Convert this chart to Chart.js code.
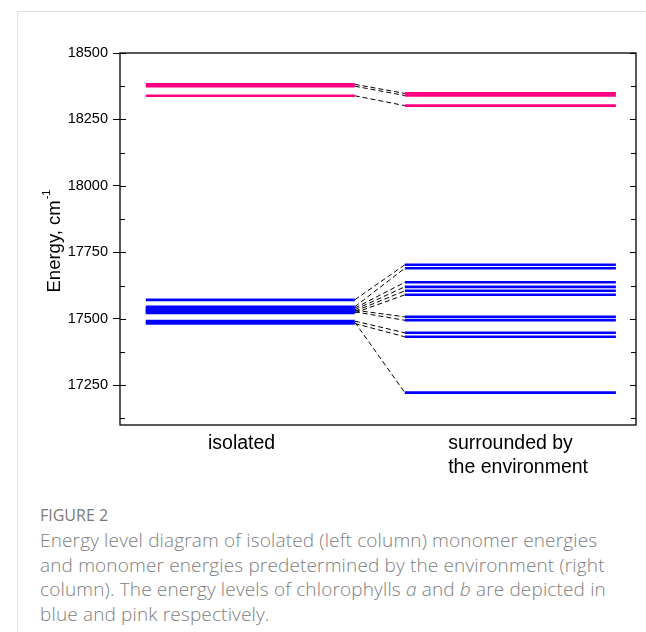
<!DOCTYPE html>
<html>
<head>
<meta charset="utf-8">
<script src="https://cdn.jsdelivr.net/npm/chart.js@4"></script>
<style>
  html, body { margin: 0; padding: 0; background: #fff; }
  body { width: 646px; height: 632px; position: relative; overflow: hidden; }
  #frame { position: absolute; left: 17px; top: 11px; right: 0; bottom: 0; border-top: 1px solid #e2e2e2; border-left: 1px solid #e2e2e2; }
  #wrap { position: absolute; left: 0; top: 0; width: 646px; height: 490px; }
  #caption { position: absolute; left: 40px; top: 505px; width: 572px; font-family: "Open Sans", sans-serif; color: #808080; }
  #caption .fig { font-size: 16px; line-height: 21px; color: #7a7a7a; }
  #caption p { margin: 2px 0 0 0; font-size: 19px; letter-spacing: 0.15px; line-height: 24.5px; font-weight: 300; }
</style>
</head>
<body>
<div id="frame"></div>
<div id="wrap"><canvas id="grafico-niveles" width="646" height="490"></canvas></div>
<div id="caption">
  <div class="fig">FIGURE 2</div>
  <p>Energy level diagram of isolated (left column) monomer energies and monomer energies predetermined by the environment (right column). The energy levels of chlorophylls <i>a</i> and <i>b</i> are depicted in blue and pink respectively.</p>
</div>
<script>
// --- Datos (cm^-1) ---
const categorias = ['isolated', ['surrounded by', 'the environment']];
const ticksEnergia = [17250, 17500, 17750, 18000, 18250, 18500];

// clorofila b (rosa): aislada -> en el entorno
const chlBAislada = [18382, 18375, 18339];
const chlBEntorno = [18348, 18340, 18302];

// clorofila a (azul): aislada -> en el entorno
const chlAAislada = [17571, 17545, 17540, 17534, 17528, 17522, 17532, 17526, 17491, 17482, 17487];
const chlAEntorno = [17703, 17690, 17637, 17620, 17605, 17590, 17507, 17494, 17447, 17432, 17222];

// --- Geometría de las columnas (eje x de 0 a 1) ---
const colIzq = [0.05, 0.455];
const colDer = [0.552, 0.961];
const posEtiquetas = [0.1705, 0.636];

const AZUL = '#0000ff';
const ROSA = '#ff0080';
const FUENTE = '"Liberation Sans", Arial, sans-serif';

function nivel(e, col, color) {
    return {
        data: [{ x: col[0], y: e }, { x: col[1], y: e }],
        borderColor: color, borderWidth: 2.6, pointRadius: 0, borderCapStyle: 'butt'
    };
}
function conector(e1, e2) {
    return {
        data: [{ x: colIzq[1], y: e1 }, { x: colDer[0], y: e2 }],
        borderColor: '#000', borderWidth: 1, borderDash: [5, 3], pointRadius: 0
    };
}

const datasets = [];
chlAAislada.forEach((e, i) => {
    datasets.push(nivel(e, colIzq, AZUL));
    datasets.push(nivel(chlAEntorno[i], colDer, AZUL));
    datasets.push(conector(e, chlAEntorno[i]));
});
chlBAislada.forEach((e, i) => {
    datasets.push(nivel(e, colIzq, ROSA));
    datasets.push(nivel(chlBEntorno[i], colDer, ROSA));
    datasets.push(conector(e, chlBEntorno[i]));
});

// --- Marco, ticks menores y título del eje y ---
const marcoPlugin = {
    id: 'marco',
    afterDraw(chart) {
        const { ctx, chartArea: a, scales } = chart;
        const y = scales.y;
        ctx.save();
        ctx.strokeStyle = '#000';
        ctx.lineWidth = 1.3;
        ctx.strokeRect(a.left, a.top, a.right - a.left, a.bottom - a.top);
        ctx.lineWidth = 1;
        ctx.beginPath();
        ticksEnergia.forEach(v => {
            const p = Math.round(y.getPixelForValue(v)) + 0.5;
            ctx.moveTo(a.left, p); ctx.lineTo(a.left + 6, p);
            ctx.moveTo(a.right, p); ctx.lineTo(a.right - 6, p);
            const m = Math.round(y.getPixelForValue(v - 125)) + 0.5;
            ctx.moveTo(a.left, m); ctx.lineTo(a.left + 5, m);
            ctx.moveTo(a.right, m); ctx.lineTo(a.right - 5, m);
        });
        ctx.stroke();

        // título rotado con superíndice
        const t1 = 'Energy, cm', t2 = '-1';
        ctx.fillStyle = '#000';
        ctx.translate(55, (a.top + a.bottom) / 2 + 2);
        ctx.rotate(-Math.PI / 2);
        ctx.textBaseline = 'middle';
        ctx.font = '18.5px ' + FUENTE;
        const w1 = ctx.measureText(t1).width;
        ctx.font = '11px ' + FUENTE;
        const w2 = ctx.measureText(t2).width;
        const x0 = -(w1 + w2 + 1) / 2;
        ctx.font = '18.5px ' + FUENTE;
        ctx.fillText(t1, x0, 0);
        ctx.font = '11px ' + FUENTE;
        ctx.fillText(t2, x0 + w1 + 1, -8);
        ctx.restore();
    }
};

const ctx = document.getElementById('grafico-niveles').getContext('2d');
new Chart(ctx, {
    type: 'line',
    data: { datasets: datasets },
    options: {
        responsive: false,
        animation: false,
        layout: { padding: { top: 53, right: 10, left: 0, bottom: 0 } },
        plugins: { legend: { display: false }, tooltip: { enabled: false } },
        elements: { line: { tension: 0 } },
        scales: {
            x: {
                type: 'linear', min: 0, max: 1,
                afterBuildTicks: s => { s.ticks = posEtiquetas.map(v => ({ value: v })); },
                afterFit: s => { s.height = 490 - 425; },
                grid: { display: false, drawTicks: false },
                border: { display: false },
                ticks: {
                    align: 'start', padding: 7, color: '#000', maxRotation: 0, autoSkip: false,
                    font: { family: FUENTE, size: 19.5, lineHeight: 1.23 },
                    callback: (v, i) => categorias[i]
                }
            },
            y: {
                type: 'linear', min: 17100, max: 18500,
                afterBuildTicks: s => { s.ticks = ticksEnergia.map(v => ({ value: v })); },
                afterFit: s => { s.width = 120; },
                grid: { drawOnChartArea: false, drawTicks: true, tickLength: 7, color: '#000', lineWidth: 1 },
                border: { display: false },
                ticks: {
                    padding: 5, color: '#000',
                    font: { family: FUENTE, size: 14.5 },
                    callback: v => String(v)
                }
            }
        }
    },
    plugins: [marcoPlugin]
});
</script>
</body>
</html>
